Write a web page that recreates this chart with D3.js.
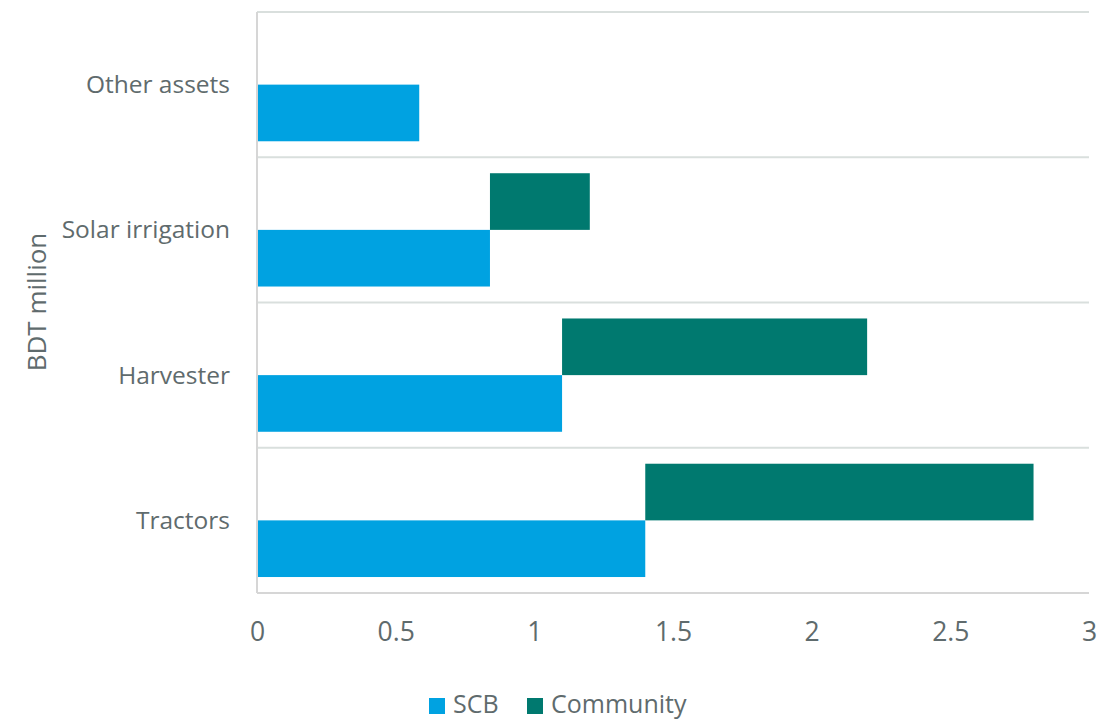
<!DOCTYPE html>
<html>
<head>
<meta charset="utf-8">
<script src="https://cdn.jsdelivr.net/npm/d3@7"></script>
<style>
body{margin:0;background:#fff;}
svg text{font-family:"Open Sans",sans-serif;fill:#5f6b6d;}
</style>
</head>
<body>
<svg id="chart" width="1101" height="721"></svg>
<script>
// values, BDT million
const categories = ["Other assets","Solar irrigation","Harvester","Tractors"];
const scbValues = [0.585,0.84,1.10,1.40];
const communityValues = [0,0.36,1.10,1.40];
const xTicks = [0,0.5,1,1.5,2,2.5,3];
const seriesNames = ["SCB","Community"];

const colors = {SCB:"#00a2e1",Community:"#00796f"};
const margin = {top:12,left:257,right:12,bottom:128};
const width = 1101-margin.left-margin.right;
const height = 721-margin.top-margin.bottom;

const svg = d3.select("#chart");
const chart = svg.append("g").attr("transform","translate("+margin.left+","+margin.top+")");

const x = d3.scaleLinear().domain([0,3]).range([0,width]);
const y = d3.scaleBand().domain(categories).range([0,height]).paddingInner(0).paddingOuter(0);
const pad = y.bandwidth()*0.11;
const barH = (y.bandwidth()-2*pad)/2;

// horizontal grid lines at band edges
const edges = categories.map(c=>y(c)).concat([height]);
chart.selectAll("line.grid").data(edges).enter().append("line")
    .attr("class","grid")
    .attr("x1",0).attr("x2",width)
    .attr("y1",d=>d).attr("y2",d=>d)
    .attr("stroke",(d,i)=>i==edges.length-1?"#d6d6d6":"#d9dfdd")
    .attr("stroke-width",2);

// bars
const rows = categories.map((c,i)=>({cat:c,scb:scbValues[i],com:communityValues[i]}));
chart.selectAll("rect.scb").data(rows).enter().append("rect")
    .attr("class","scb")
    .attr("x",x(0))
    .attr("y",d=>y(d.cat)+pad+barH)
    .attr("width",d=>x(d.scb)-x(0))
    .attr("height",barH)
    .attr("fill",colors.SCB);
chart.selectAll("rect.com").data(rows.filter(d=>d.com>0)).enter().append("rect")
    .attr("class","com")
    .attr("x",d=>x(d.scb))
    .attr("y",d=>y(d.cat)+pad)
    .attr("width",d=>x(d.scb+d.com)-x(d.scb))
    .attr("height",barH)
    .attr("fill",colors.Community);

// left axis line
chart.append("line")
    .attr("x1",0).attr("x2",0).attr("y1",0).attr("y2",height)
    .attr("stroke","#d6d6d6").attr("stroke-width",2);

// category labels
const yaxis = d3.axisLeft(y).tickSize(0).tickPadding(27);
const yg = chart.append("g").call(yaxis);
yg.select(".domain").remove();
yg.selectAll("text").style("font-size","24.5px").attr("dy","0.35em");

// x axis labels
const xaxis = d3.axisBottom(x).tickValues(xTicks).tickSize(0).tickPadding(29).tickFormat(d3.format("~g"));
const xg = chart.append("g").attr("transform","translate(0,"+height+")").call(xaxis);
xg.select(".domain").remove();
xg.selectAll("text").style("font-size","26.5px");

// y title
svg.append("text")
    .attr("transform","translate(46,302) rotate(-90)")
    .attr("text-anchor","middle")
    .style("font-size","26px")
    .text("BDT million");

// legend
const legendX = [429,527];
const legend = svg.selectAll("g.legend").data(seriesNames).enter().append("g")
    .attr("class","legend")
    .attr("transform",(d,i)=>"translate("+legendX[i]+",698)");
legend.append("rect").attr("width",16).attr("height",16).attr("fill",d=>colors[d]);
legend.append("text").attr("x",24).attr("y",15)
    .style("font-size","25px").text(d=>d);
</script>
</body>
</html>
